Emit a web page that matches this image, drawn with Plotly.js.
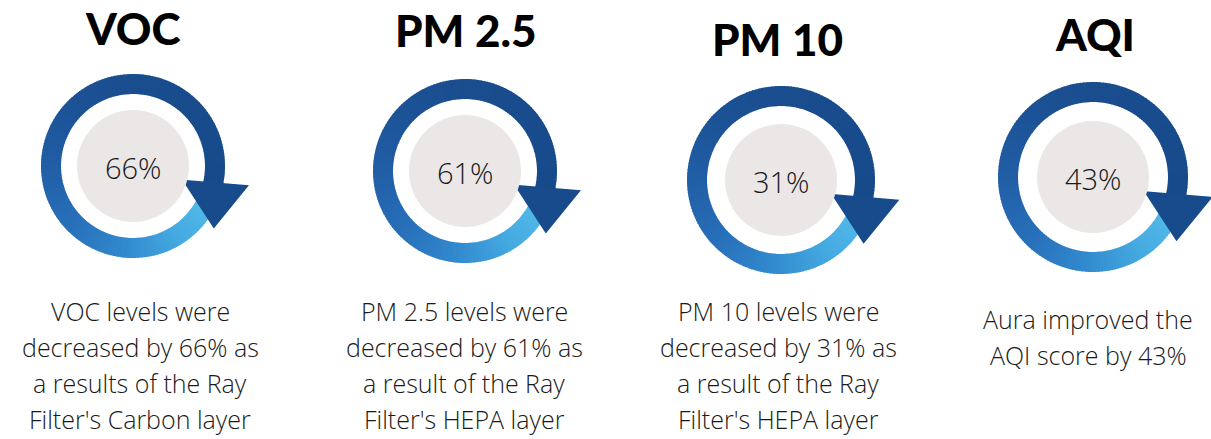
<!DOCTYPE html>
<html>
<head>
<meta charset="utf-8">
<script src="https://cdn.plot.ly/plotly-3.0.1.min.js"></script>
<style>
  html, body { margin: 0; padding: 0; background: #ffffff; }
  #chart { width: 1211px; height: 439px; }
</style>
</head>
<body>
<div id="chart"></div>
<script>
// ---- data ----
const categories = ['VOC', 'PM 2.5', 'PM 10', 'AQI'];
const reductions = [66, 61, 31, 43];
const descriptions = [
  ['VOC levels were', 'decreased by 66% as', 'a results of the Ray', "Filter's Carbon layer"],
  ['PM 2.5 levels were', 'decreased by 61% as', 'a result of the Ray', "Filter's HEPA layer"],
  ['PM 10 levels were', 'decreased by 31% as', 'a result of the Ray', "Filter's HEPA layer"],
  ['Aura improved the', 'AQI score by 43%']
];

// ---- layout config (positions / styles) ----
const W = 1211, H = 439;
const panels = [
  {cx: 133, cy: 166, ro: 92, tx: 132, ty: 28, dx: 140, dy: 311},
  {cx: 465, cy: 171, ro: 92, tx: 465, ty: 30, dx: 464, dy: 311},
  {cx: 781, cy: 180, ro: 94, tx: 777, ty: 39, dx: 778, dy: 311},
  {cx: 1093, cy: 177, ro: 95, tx: 1095, ty: 34, dx: 1088, dy: 319}
];
const ringWidth = 20;
const innerR = 56;
const lineGap = 36;
const arrowColor = '#174b8b';
const grayFill = '#ebe7e6';
// gradient stops along the sweep angle (deg, screen coords, clockwise)
const stops = [
  [20,  [84, 190, 235]],
  [60,  [68, 168, 224]],
  [95,  [50, 138, 206]],
  [135, [40, 112, 186]],
  [180, [33, 94, 166]],
  [225, [28, 82, 150]],
  [270, [26, 77, 142]],
  [376, [23, 74, 138]]
];

function colorAt(a) {
  for (let i = 0; i < stops.length - 1; i++) {
    const [a0, c0] = stops[i], [a1, c1] = stops[i + 1];
    if (a >= a0 && a <= a1) {
      const t = (a - a0) / (a1 - a0);
      const c = c0.map((v, k) => Math.round(v + (c1[k] - v) * t));
      return `rgb(${c[0]},${c[1]},${c[2]})`;
    }
  }
  const c = stops[stops.length - 1][1];
  return `rgb(${c[0]},${c[1]},${c[2]})`;
}

const shapes = [];
const annotations = [];
const rad = d => d * Math.PI / 180;

panels.forEach((p, i) => {
  const ro = p.ro, ri = p.ro - ringWidth;
  const start = 20, end = 376, step = 2;
  for (let a = start; a < end; a += step) {
    const a0 = a, a1 = Math.min(a + step + 0.6, end);
    const pts = [
      [p.cx + ro * Math.cos(rad(a0)), p.cy + ro * Math.sin(rad(a0))],
      [p.cx + ro * Math.cos(rad(a1)), p.cy + ro * Math.sin(rad(a1))],
      [p.cx + ri * Math.cos(rad(a1)), p.cy + ri * Math.sin(rad(a1))],
      [p.cx + ri * Math.cos(rad(a0)), p.cy + ri * Math.sin(rad(a0))]
    ];
    const path = 'M' + pts.map(q => q[0].toFixed(2) + ',' + q[1].toFixed(2)).join('L') + 'Z';
    shapes.push({type: 'path', xref: 'x', yref: 'y', path: path,
      fillcolor: colorAt(a + step / 2), line: {width: 0}, layer: 'above'});
  }
  // arrow head (relative to ring centre, scaled by radius)
  const s = ro / 92;
  const tri = [[53, 16], [112, 21], [81, 59]].map(q => [p.cx + q[0] * s, p.cy + q[1] * s]);
  shapes.push({type: 'path', xref: 'x', yref: 'y',
    path: 'M' + tri.map(q => q[0].toFixed(2) + ',' + q[1].toFixed(2)).join('L') + 'Z',
    fillcolor: arrowColor, line: {color: arrowColor, width: 4}, layer: 'above'});
  // inner grey disc
  shapes.push({type: 'circle', xref: 'x', yref: 'y',
    x0: p.cx - innerR, x1: p.cx + innerR, y0: p.cy - innerR, y1: p.cy + innerR,
    fillcolor: grayFill, line: {width: 0}, layer: 'above'});

  // title
  annotations.push({x: p.tx, y: p.ty, xref: 'x', yref: 'y', text: categories[i],
    showarrow: false, xanchor: 'center', yanchor: 'middle',
    font: {family: 'Lato, sans-serif', size: 44, color: '#000000', weight: 900}});
  // percentage
  annotations.push({x: p.cx, y: p.cy + 1, xref: 'x', yref: 'y', text: reductions[i] + '%',
    showarrow: false, xanchor: 'center', yanchor: 'middle',
    font: {family: '"Open Sans", sans-serif', size: 29, color: '#1a1a1a', weight: 300}});
  // description lines
  descriptions[i].forEach((ln, k) => {
    annotations.push({x: p.dx, y: p.dy + k * lineGap, xref: 'x', yref: 'y', text: ln,
      showarrow: false, xanchor: 'center', yanchor: 'middle', borderpad: 0,
      font: {family: '"Open Sans", sans-serif', size: 25, color: '#1a1a1a', weight: 300}});
  });
});

const layout = {
  width: W, height: H,
  margin: {l: 0, r: 0, t: 0, b: 0, pad: 0},
  paper_bgcolor: '#ffffff', plot_bgcolor: '#ffffff',
  showlegend: false,
  xaxis: {range: [0, W], visible: false, fixedrange: true},
  yaxis: {range: [H, 0], visible: false, fixedrange: true},
  shapes: shapes,
  annotations: annotations
};

Plotly.newPlot('chart', [{x: [], y: [], type: 'scatter', mode: 'markers', hoverinfo: 'skip'}],
  layout, {staticPlot: true, displayModeBar: false});
</script>
</body>
</html>
